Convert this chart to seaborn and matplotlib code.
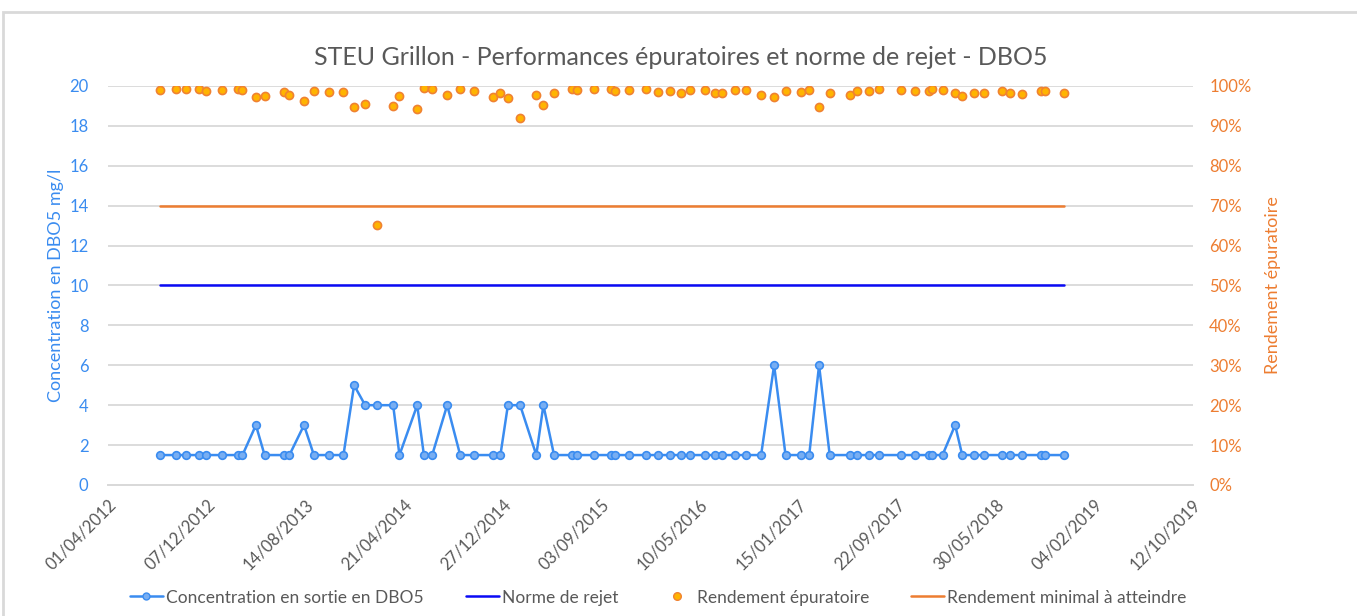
import pandas as pd
import numpy as np
import seaborn as sns
import matplotlib.pyplot as plt
import matplotlib.dates as mdates
from matplotlib.lines import Line2D
from matplotlib.ticker import PercentFormatter

# --- data ---
dates = [
    "2012-08-11", "2012-09-20", "2012-10-17", "2012-11-18", "2012-12-06", "2013-01-15",
    "2013-02-25", "2013-03-08", "2013-04-11", "2013-05-03", "2013-06-22", "2013-07-05",
    "2013-08-11", "2013-09-05", "2013-10-14", "2013-11-19", "2013-12-16", "2014-01-13",
    "2014-02-11", "2014-03-25", "2014-04-10", "2014-05-25", "2014-06-11", "2014-07-02",
    "2014-08-09", "2014-09-11", "2014-10-16", "2014-12-02", "2014-12-22", "2015-01-10",
    "2015-02-10", "2015-03-23", "2015-04-10", "2015-05-07", "2015-06-22", "2015-07-04",
    "2015-08-17", "2015-09-28", "2015-10-09", "2015-11-13", "2015-12-26", "2016-01-26",
    "2016-02-25", "2016-03-23", "2016-04-15", "2016-05-24", "2016-06-17", "2016-07-05",
    "2016-08-07", "2016-09-05", "2016-10-13", "2016-11-15", "2016-12-14", "2017-01-23",
    "2017-02-12", "2017-03-09", "2017-04-05", "2017-05-27", "2017-06-14", "2017-07-13",
    "2017-08-08", "2017-10-03", "2017-11-07", "2017-12-14", "2017-12-20", "2018-01-16",
    "2018-02-17", "2018-03-07", "2018-04-06", "2018-04-30", "2018-06-16", "2018-07-06",
    "2018-08-05", "2018-09-23", "2018-10-04", "2018-11-20",
]

dbo5 = [
    1.5, 1.5, 1.5, 1.5, 1.5, 1.5, 1.5, 1.5, 3, 1.5, 1.5, 1.5,
    3, 1.5, 1.5, 1.5, 5, 4, 4, 4, 1.5, 4, 1.5, 1.5,
    4, 1.5, 1.5, 1.5, 1.5, 4, 4, 1.5, 4, 1.5, 1.5, 1.5,
    1.5, 1.5, 1.5, 1.5, 1.5, 1.5, 1.5, 1.5, 1.5, 1.5, 1.5, 1.5,
    1.5, 1.5, 1.5, 6, 1.5, 1.5, 1.5, 6, 1.5, 1.5, 1.5, 1.5,
    1.5, 1.5, 1.5, 1.5, 1.5, 1.5, 3, 1.5, 1.5, 1.5, 1.5, 1.5,
    1.5, 1.5, 1.5, 1.5,
]

rendement = [
    98.9, 99.2, 99.2, 99.2, 98.7, 98.9, 99.2, 98.9, 97.2, 97.5, 98.5, 97.7,
    96.2, 98.7, 98.4, 98.4, 94.7, 95.5, 65.2, 95.0, 97.5, 94.2, 99.4, 99.2,
    97.7, 99.2, 98.7, 97.2, 98.2, 97.0, 92.1, 97.7, 95.2, 98.2, 99.2, 98.9,
    99.2, 99.2, 98.7, 98.9, 99.2, 98.4, 98.7, 98.2, 98.9, 98.9, 98.2, 98.2,
    98.9, 98.9, 97.7, 97.2, 98.7, 98.4, 98.9, 94.7, 98.2, 97.7, 98.7, 98.7,
    99.2, 98.9, 98.7, 98.7, 99.2, 98.9, 98.2, 97.4, 98.2, 98.2, 98.7, 98.2,
    97.9, 98.7, 98.7, 98.2,
]

norme_rejet = 10        # mg/l
rendement_min = 70      # %

df = pd.DataFrame({
    "date": pd.to_datetime(dates),
    "dbo5": dbo5,
    "rendement": np.array(rendement) / 100,
})
df["norme"] = norme_rejet
df["rend_min"] = rendement_min / 100

# --- colours ---
c_dbo = "#3a8cf0"
c_dbo_face = "#78aef2"
c_norme = "#0a0af5"
c_rend_face = "#ffb400"
c_rend_edge = "#f08232"
c_min = "#ed7d31"
c_grey = "#595959"
c_grid = "#d9d9d9"

sns.set_theme(style="white")
plt.rcParams["font.family"] = ["Lato", "DejaVu Sans"]

fig = plt.figure(figsize=(13.57, 6.16), dpi=100)
ax = fig.add_axes([0.0796, 0.2127, 0.7992, 0.6477])
ax2 = ax.twinx()

# left axis: concentration + norme
sns.lineplot(data=df, x="date", y="norme", ax=ax, color=c_norme, lw=1.8, zorder=3)
sns.lineplot(data=df, x="date", y="dbo5", ax=ax, color=c_dbo, lw=1.8,
             marker="o", markersize=5.5, markerfacecolor=c_dbo_face,
             markeredgecolor=c_dbo, markeredgewidth=1.2, zorder=4)

# right axis: rendement + minimum
sns.lineplot(data=df, x="date", y="rend_min", ax=ax2, color=c_min, lw=1.8, zorder=3)
sns.scatterplot(data=df, x="date", y="rendement", ax=ax2, color=c_rend_face,
                edgecolor=c_rend_edge, linewidth=1.2, s=34, zorder=4)

ax.set_zorder(ax2.get_zorder() + 1)
ax.patch.set_visible(False)

# y axes
ax.set_ylim(0, 20)
ax.set_yticks(np.arange(0, 21, 2))
ax2.set_ylim(0, 1)
ax2.set_yticks(np.arange(0, 1.01, 0.1))
ax2.yaxis.set_major_formatter(PercentFormatter(1.0, decimals=0))
ax2.yaxis.grid(True, color=c_grid, lw=1.3)
ax2.set_axisbelow(True)

ax.tick_params(axis="y", colors=c_dbo, labelsize=12, length=0, pad=14)
ax2.tick_params(axis="y", colors=c_min, labelsize=12, length=0, pad=12)
ax.set_ylabel("Concentration en DBO5 mg/l", color=c_dbo, fontsize=13, labelpad=4)
ax2.set_ylabel("Rendement épuratoire", color=c_min, fontsize=13, labelpad=10)

# x axis: Excel-style date axis, major unit 250 days
start = pd.Timestamp("2012-04-01")
xticks = pd.date_range(start, periods=12, freq="250D")
ax.set_xlim(xticks[0], xticks[-1])
ax.set_xticks(xticks)
ax.xaxis.set_major_formatter(mdates.DateFormatter("%d/%m/%Y"))
ax.tick_params(axis="x", colors=c_grid, labelcolor=c_grey, labelsize=12,
               length=6, width=1.3, direction="out", pad=2)
plt.setp(ax.get_xticklabels(), rotation=45, ha="right", rotation_mode="anchor")
ax.set_xlabel("")
ax2.set_xlabel("")

for a in (ax, ax2):
    for side in ("top", "left", "right"):
        a.spines[side].set_visible(False)
    a.spines["bottom"].set_color(c_grid)
    a.spines["bottom"].set_linewidth(1.3)

fig.suptitle("STEU Grillon - Performances épuratoires et norme de rejet - DBO5",
             x=0.502, y=0.925, fontsize=18, color=c_grey)

# combined legend at the bottom
handles = [
    Line2D([], [], color=c_dbo, lw=1.8, marker="o", markersize=5,
           markerfacecolor=c_dbo_face, markeredgecolor=c_dbo),
    Line2D([], [], color=c_norme, lw=1.8),
    Line2D([], [], color="none", marker="o", markersize=5.5,
           markerfacecolor=c_rend_face, markeredgecolor=c_rend_edge),
    Line2D([], [], color=c_min, lw=1.8),
]
labels = ["Concentration en sortie en DBO5", "Norme de rejet",
          "Rendement épuratoire", "Rendement minimal à atteindre"]
fig.legend(handles, labels, loc="center", bbox_to_anchor=(0.485, 0.03), ncol=4,
           frameon=False, fontsize=12.5, labelcolor=c_grey, handlelength=1.9,
           columnspacing=2.4, handletextpad=0.2)

# chart area border
fig.patches.append(plt.Rectangle((0.002, -0.01), 1.1, 0.99, transform=fig.transFigure,
                                 fill=False, edgecolor=c_grid, lw=2))

fig.savefig("out.png", dpi=100)
